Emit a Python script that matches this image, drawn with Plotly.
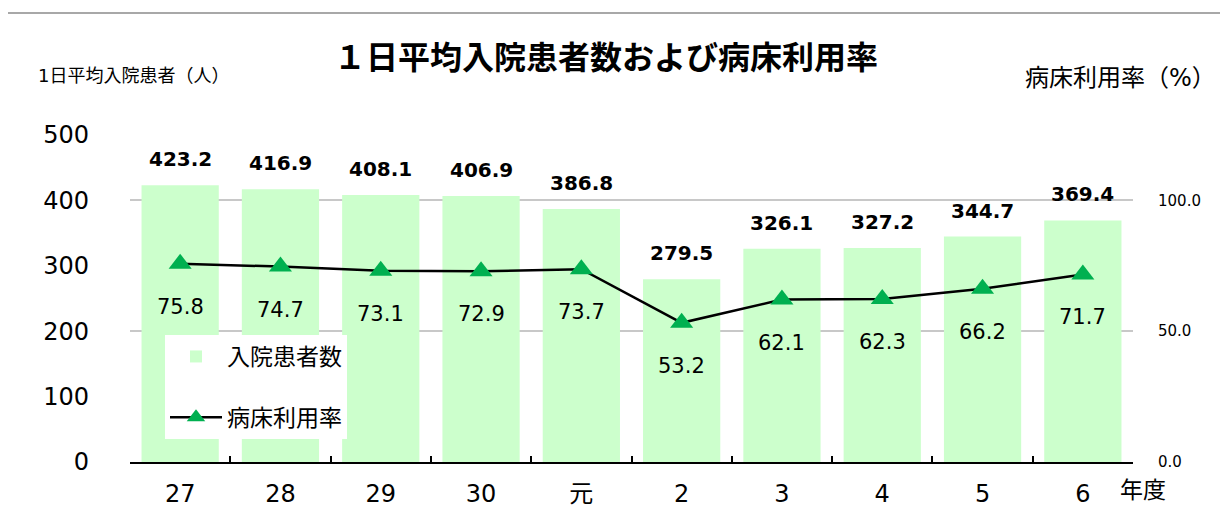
import plotly.graph_objects as go

categories = ["27", "28", "29", "30", "元", "2", "3", "4", "5", "6"]
patients = [423.2, 416.9, 408.1, 406.9, 386.8, 279.5, 326.1, 327.2, 344.7, 369.4]
bed_rate = [75.8, 74.7, 73.1, 72.9, 73.7, 53.2, 62.1, 62.3, 66.2, 71.7]
left_ticks = [0, 100, 200, 300, 400, 500]
right_ticks = [0, 50, 100]

FONT = "DejaVu Sans, Noto Sans CJK JP"
W, H = 1228, 530
OFF = 8  # page body margin offset
# reference plot-area pixels: x 130..1133, y 135..462
L = 130 - OFF
T = 135 - OFF
R = W - (1133 - OFF)
B = H - (462 - OFF)
PW, PH = W - L - R, H - T - B

def px(x):
    return (x - OFF - L) / PW

def py(y):
    return (H - B - (y - OFF)) / PH

fig = go.Figure()
fig.add_trace(go.Bar(
    x=categories, y=patients, name="入院患者数",
    marker=dict(color="#CCFFCC", line=dict(width=0)),
    legendgroup="a", yaxis="y",
))
fig.add_trace(go.Scatter(
    x=categories, y=bed_rate, name="病床利用率", mode="lines+markers",
    line=dict(color="black", width=2.5),
    marker=dict(symbol="triangle-up", size=20, color="#00B050"),
    legendgroup="b", yaxis="y2",
))

annotations = []
for i, v in enumerate(patients):
    annotations.append(dict(x=i, y=v, xref="x", yref="y", text=f"{v:.1f}",
                            showarrow=False, yshift=26, yanchor="middle",
                            font=dict(family=FONT, size=20, color="black", weight="bold")))
for i, v in enumerate(bed_rate):
    annotations.append(dict(x=i, y=v, xref="x", yref="y2", text=f"{v:.1f}",
                            showarrow=False, yshift=-43, yanchor="middle",
                            font=dict(family=FONT, size=21, color="black")))

annotations += [
    dict(text="１日平均入院患者数および病床利用率", x=px(606), y=py(58), xref="paper", yref="paper",
         showarrow=False, xanchor="center", yanchor="middle",
         font=dict(family=FONT, size=32, color="black", weight="bold")),
    dict(text="1日平均入院患者（人）", x=px(36), y=py(75), xref="paper", yref="paper",
         showarrow=False, xanchor="left", yanchor="middle",
         font=dict(family=FONT, size=18, color="black")),
    dict(text="病床利用率（%）", x=px(1218), y=py(78), xref="paper", yref="paper",
         showarrow=False, xanchor="right", yanchor="middle",
         font=dict(family=FONT, size=24, color="black")),
    dict(text="年度", x=px(1143), y=py(490), xref="paper", yref="paper",
         showarrow=False, xanchor="center", yanchor="middle",
         font=dict(family=FONT, size=23, color="black")),
]

fig.update_layout(
    width=W, height=H,
    margin=dict(l=L, r=R, t=T, b=B, autoexpand=False),
    paper_bgcolor="white", plot_bgcolor="white",
    bargap=0.23,
    showlegend=True,
    legend=dict(x=px(165), y=py(335), xanchor="left", yanchor="top",
                bgcolor="white", font=dict(family=FONT, size=23, color="black"),
                itemwidth=52, tracegroupgap=28, traceorder="grouped"),
    xaxis=dict(type="category", range=[-0.5, len(categories) - 0.5],
               showline=True, linecolor="black", linewidth=1.5,
               ticks="inside", tickson="boundaries", ticklen=6, tickcolor="black",
               tickwidth=1.5, showgrid=False, tickangle=0,
               tickfont=dict(family=FONT, size=24, color="black"), ticklabelstandoff=9),
    yaxis=dict(range=[0, 500], tickvals=left_ticks, showgrid=False, zeroline=False,
               showline=False, ticks="",
               tickfont=dict(family=FONT, size=24, color="black"), ticklabelstandoff=40),
    yaxis2=dict(overlaying="y", side="right", range=[0, 125], tickvals=right_ticks,
                tickformat=".1f", showgrid=True, gridcolor="#C8C8C8", gridwidth=1.5,
                zeroline=False, showline=False, ticks="",
                tickfont=dict(family=FONT, size=15, color="black"), ticklabelstandoff=24),
    annotations=annotations,
    shapes=[dict(type="rect", xref="paper", yref="paper",
                 x0=px(7), x1=px(1245), y0=py(545), y1=py(13),
                 line=dict(color="#8C8C8C", width=1.5), layer="below")],
)

fig.write_html("out.html")
